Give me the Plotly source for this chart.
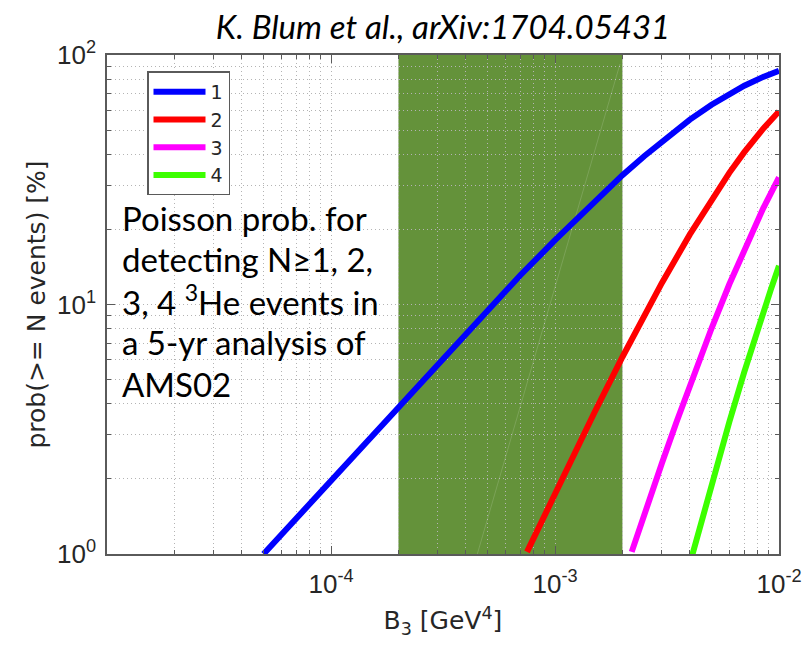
import plotly.graph_objects as go

# B3 values [GeV^4] and cumulative Poisson probabilities [%] for N >= 1..4
b3_n1 = [5e-5, 7e-5, 1e-4, 1.5e-4, 2e-4, 3e-4, 5e-4, 7e-4, 1e-3, 1.5e-3, 2e-3,
         2.5e-3, 3e-3, 4e-3, 5e-3, 6e-3, 7e-3, 8.5e-3, 1e-2]
prob_n1 = [1.0, 1.39, 1.98, 2.96, 3.92, 5.82, 9.52, 13.1, 18.1, 25.9, 33.0,
           39.3, 45.1, 55.1, 63.2, 69.9, 75.3, 81.7, 86.5]

b3_n2 = [7.5e-4, 1e-3, 1.2e-3, 1.5e-3, 2e-3, 2.5e-3, 3e-3, 4e-3, 5e-3, 6e-3,
         7e-3, 8.5e-3, 1e-2]
prob_n2 = [1.02, 1.75, 2.46, 3.69, 6.16, 9.02, 12.2, 19.1, 26.4, 33.7,
           40.8, 50.7, 59.4]

b3_n3 = [2.2e-3, 2.6e-3, 3e-3, 3.5e-3, 4e-3, 5e-3, 6e-3, 7e-3, 8.5e-3, 1e-2]
prob_n3 = [1.02, 1.60, 2.31, 3.41, 4.74, 8.03, 12.05, 16.6, 24.3, 32.3]

b3_n4 = [4.1e-3, 4.5e-3, 5e-3, 6e-3, 7e-3, 7.7e-3, 8.5e-3, 9.2e-3, 1e-2]
prob_n4 = [0.99, 1.35, 1.90, 3.38, 5.37, 7.08, 9.31, 11.5, 14.3]

# faint guide line across the shaded band
guide_b3 = [4.5e-4, 1.95e-3]
guide_prob = [1.0, 92.0]

# shaded B3 interval
band_b3 = [2e-4, 2e-3]

series_names = ["1", "2", "3", "4"]
series_colors = ["#0000ff", "#ff0000", "#ff00ff", "#3cff00"]

x_major = [1e-4, 1e-3, 1e-2]
x_major_text = ["10<sup>-4</sup>", "10<sup>-3</sup>", "10<sup>-2</sup>"]
y_major = [1, 10, 100]
y_major_text = ["10<sup>0</sup>", "10<sup>1</sup>", "10<sup>2</sup>"]

x_minor = [m * 10.0 ** e for e in (-5, -4, -3) for m in range(2, 10)]
y_minor = [m * 10.0 ** e for e in (0, 1) for m in range(2, 10)]

note_lines = [
    "Poisson prob. for",
    "detecting N≥1, 2,",
    "3, 4 <sup>3</sup>He events in",
    "a 5-yr analysis of",
    "AMS02",
]

AXIS_GREY = "#5a5a5a"
GRID_GREY = "#b4b4b4"
GRID_DASH = "1px,3px"
TICK_FONT = "Liberation Sans"
LABEL_FONT = "DejaVu Sans"

fig = go.Figure()

fig.add_trace(go.Scatter(
    x=guide_b3, y=guide_prob, mode="lines",
    line=dict(color="rgba(255,255,255,0.15)", width=1),
    showlegend=False, hoverinfo="skip",
))

for xs, ys, name, color in zip(
    [b3_n1, b3_n2, b3_n3, b3_n4],
    [prob_n1, prob_n2, prob_n3, prob_n4],
    series_names, series_colors,
):
    fig.add_trace(go.Scatter(
        x=xs, y=ys, mode="lines", name=name,
        line=dict(color=color, width=6),
        cliponaxis=False,
    ))

fig.add_vrect(
    x0=band_b3[0], x1=band_b3[1],
    fillcolor="#64923a", line_width=0, layer="below",
)

# plot area in pixels: x 107..779, y 54.5..554
PLOT_TOP, PLOT_BOTTOM = 54.5, 554.0
PLOT_H = PLOT_BOTTOM - PLOT_TOP


def paper_y(py):
    return (PLOT_BOTTOM - py) / PLOT_H


def paper_x(px):
    return (px - 107.0) / 672.0


note_centers = [218, 259, 300, 342, 384]
for txt, cy in zip(note_lines, note_centers):
    fig.add_annotation(
        x=paper_x(120), y=paper_y(cy), xref="paper", yref="paper",
        xanchor="left", yanchor="middle", text=txt, showarrow=False,
        font=dict(family="Lato", size=33, color="black"),
    )

axis_common = dict(
    type="log",
    showline=True, linecolor=AXIS_GREY, linewidth=1.5, mirror="ticks",
    ticks="inside", ticklen=8, tickwidth=1.2, tickcolor=AXIS_GREY,
    showgrid=True, gridcolor=GRID_GREY, gridwidth=1, griddash=GRID_DASH,
    tickmode="array", zeroline=False,
    tickfont=dict(family=TICK_FONT, size=26, color="#262626"),
)

minor_common = dict(
    tickmode="array", ticks="inside", ticklen=4, tickcolor=AXIS_GREY,
    tickwidth=1, showgrid=True, gridcolor=GRID_GREY, griddash=GRID_DASH,
    gridwidth=1,
)

fig.update_xaxes(
    **axis_common,
    range=[-5, -2],
    tickvals=x_major, ticktext=x_major_text,
    ticklabelstandoff=6,
    minor=dict(tickvals=x_minor, **minor_common),
    title=dict(text="B<sub>3</sub> [GeV<sup>4</sup>]",
               font=dict(family=LABEL_FONT, size=25, color="#262626"),
               standoff=14),
)

fig.update_yaxes(
    **axis_common,
    range=[0, 2],
    tickvals=y_major, ticktext=y_major_text,
    ticklabelstandoff=4,
    minor=dict(tickvals=y_minor, **minor_common),
    title=dict(text="prob(>= N events) [%]",
               font=dict(family=LABEL_FONT, size=25, color="#262626"),
               standoff=4),
)

fig.update_layout(
    width=807, height=649,
    margin=dict(l=107, r=28, t=54.5, b=95, autoexpand=False),
    paper_bgcolor="white", plot_bgcolor="white",
    title=dict(
        text="K. Blum et al., arXiv:1704.05431",
        x=0.5, xref="paper", xanchor="center",
        y=1 - 27.0 / 649, yref="container", yanchor="middle",
        font=dict(family="Lato", size=33, style="italic", color="black"),
    ),
    legend=dict(
        x=paper_x(147), y=paper_y(71), xanchor="left", yanchor="top",
        bgcolor="white", bordercolor=AXIS_GREY, borderwidth=1.5,
        font=dict(family=LABEL_FONT, size=19, color="#262626"),
        itemwidth=52, tracegroupgap=0,
    ),
    showlegend=True,
)

fig.write_html("out.html")
